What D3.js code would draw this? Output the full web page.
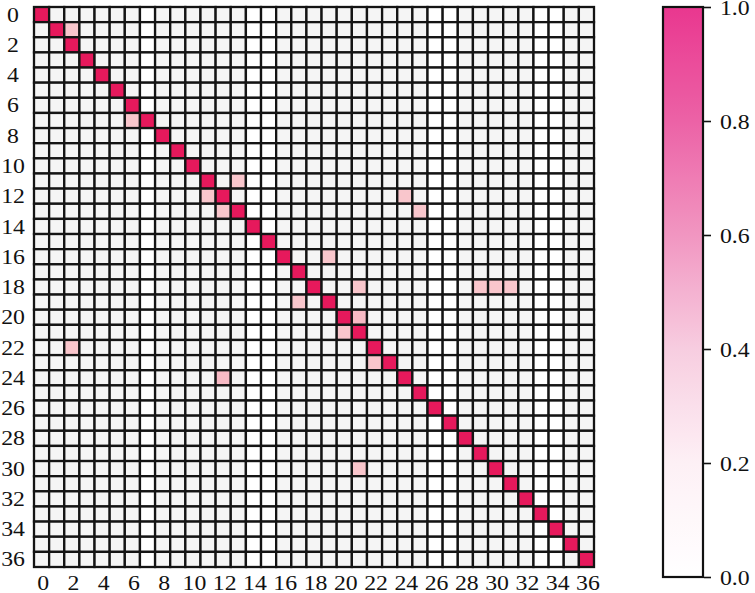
<!DOCTYPE html>
<html>
<head>
<meta charset="utf-8">
<script src="https://cdn.jsdelivr.net/npm/d3@7"></script>
<style>
    body { margin: 0; background: #fff; }
</style>
</head>
<body>
<div id="vis"></div>
<script>
// Cell readings, one string per row (row 0 at top).
// '#' = 1.0, 'q' = 0.3, 'p' = 0.25, '-' = faint (~0.03), '.' = 0
var rows = [
    "#------.------..----------..-----..--",
    "-#p----.------..----------..-----..--",
    "--#----.------..----------..-----..--",
    "---#---.------..----------..-----..--",
    "----#--.------..----------..-----..--",
    "-----#-.------..----------..-----..--",
    "------#.------..----------..-----..--",
    "------p#------..----------..-----..--",
    "-------.#-----..----------..-----..--",
    "-------.-#----..----------..-----..--",
    "-------.--#---..----------..-----..--",
    "-------.---#-p..----------..-----..--",
    "-------.---p#-..--------p-..-----..--",
    "-------.----p#..---------p..-----..--",
    "-------.------#.----------..-----..--",
    "-------.------.#----------..-----..--",
    "-------.------..#--p------..-----..--",
    "-------.------..-#--------..-----..--",
    "-------.------..--#--p----..-ppp-..--",
    "-------.------..-p-#------..-----..--",
    "-------.------..----#q----..-----..--",
    "-------.------..----p#----..-----..--",
    "--p----.------..------#---..-----..--",
    "-------.------..------p#--..-----..--",
    "-------.----q-..--------#-..-----..--",
    "-------.------..---------#..-----..--",
    "-------.------..----------#.-----..--",
    "-------.------..----------.#-----..--",
    "-------.------..----------..#----..--",
    "-------.------..----------..-#---..--",
    "-------.------..-----p----..--#--..--",
    "-------.------..----------..---#-..--",
    "-------.------..----------..----#..--",
    "-------.------..----------..-----#.--",
    "-------.------..----------..-----.#--",
    "-------.------..----------..-----..#-",
    "-------.------..----------..-----..-#"
];
var levels = { "#": 1.0, "q": 0.3, "p": 0.25, "-": 0.03, ".": 0 };

var axisTicks = d3.range(0, 37, 2);
var colorbarTicks = [0, 0.2, 0.4, 0.6, 0.8, 1.0];

// cell colours and colour bar stops
var cellDomain = [0, 0.03, 0.25, 1];
var cellColors = ["#ffffff", "#f5f5f5", "#f9c6cc", "#e6195c"];
var barDomain = [0, 0.2, 0.4, 0.6, 0.8, 1.0];
var barColors = ["#ffffff", "#fdf0f5", "#f7cde0", "#f196c1", "#ec62a6", "#e9378f"];

var fontFamily = "'Liberation Serif', 'Times New Roman', Times, serif";
var stretch = 1.08; // the labels in the figure are drawn a little wide

// Build cell table -----------------------------------------------------------
var cells = [];
rows.forEach(function(s, r) {
    s.split("").forEach(function(ch, c) {
        cells.push({ row: r, col: c, value: levels[ch] });
    });
});

var width = 755,
    height = 593;

var svg = d3.select("#vis").append("svg")
    .attr("width", width)
    .attr("height", height);

var n = rows.length;
var x = d3.scaleBand().domain(d3.range(n)).range([34, 594]);
var y = d3.scaleBand().domain(d3.range(n)).range([7, 567]);

var color = d3.scaleLinear().domain(cellDomain).range(cellColors);

// Heatmap cells
svg.append("g")
    .selectAll("rect")
    .data(cells)
    .enter().append("rect")
    .attr("x", function(d) { return x(d.col); })
    .attr("y", function(d) { return y(d.row); })
    .attr("width", x.bandwidth())
    .attr("height", y.bandwidth())
    .attr("fill", function(d) { return color(d.value); })
    .attr("stroke", "#141414")
    .attr("stroke-width", 2.3);

// Left axis
var gy = svg.append("g")
    .attr("transform", "translate(34,0)")
    .call(d3.axisLeft(y).tickValues(axisTicks).tickSize(0));
gy.select(".domain").remove();
gy.attr("font-family", fontFamily).attr("font-size", 22);
gy.selectAll("text")
    .attr("x", 0)
    .attr("text-anchor", "middle")
    .attr("fill", "#111")
    .attr("transform", "translate(-21,0) scale(" + stretch + ",1)");

// Bottom axis
var gx = svg.append("g")
    .attr("transform", "translate(0,567)")
    .call(d3.axisBottom(x).tickValues(axisTicks).tickSize(0).tickPadding(7));
gx.select(".domain").remove();
gx.attr("font-family", fontFamily).attr("font-size", 22);
gx.selectAll("text")
    .attr("fill", "#111")
    .attr("transform", "translate(1.5,0) scale(" + stretch + ",1)");

// Colour bar -------------------------------------------------------------------
var barX = 663, barW = 40;
var cy = d3.scaleLinear().domain([0, 1]).range([577, 7]);
var barColor = d3.scaleLinear().domain(barDomain).range(barColors);

var grad = svg.append("defs").append("linearGradient")
    .attr("id", "cbar")
    .attr("x1", 0).attr("y1", 1)
    .attr("x2", 0).attr("y2", 0);
grad.selectAll("stop")
    .data(d3.range(0, 1.0001, 0.05))
    .enter().append("stop")
    .attr("offset", function(d) { return d; })
    .attr("stop-color", function(d) { return barColor(d); });

svg.append("rect")
    .attr("x", barX)
    .attr("y", cy(1))
    .attr("width", barW)
    .attr("height", cy(0) - cy(1))
    .attr("fill", "url(#cbar)")
    .attr("stroke", "#111")
    .attr("stroke-width", 2.2);

var gc = svg.append("g")
    .attr("transform", "translate(" + (barX + barW + 1) + ",0)")
    .call(d3.axisRight(cy).tickValues(colorbarTicks).tickSize(7).tickFormat(d3.format(".1f")));
gc.select(".domain").remove();
gc.attr("font-family", fontFamily).attr("font-size", 22);
gc.selectAll("line").attr("stroke", "#111").attr("stroke-width", 1.6);
gc.selectAll("text")
    .attr("x", 0)
    .attr("fill", "#111")
    .attr("transform", "translate(16,0) scale(" + stretch + ",1)");
</script>
</body>
</html>
